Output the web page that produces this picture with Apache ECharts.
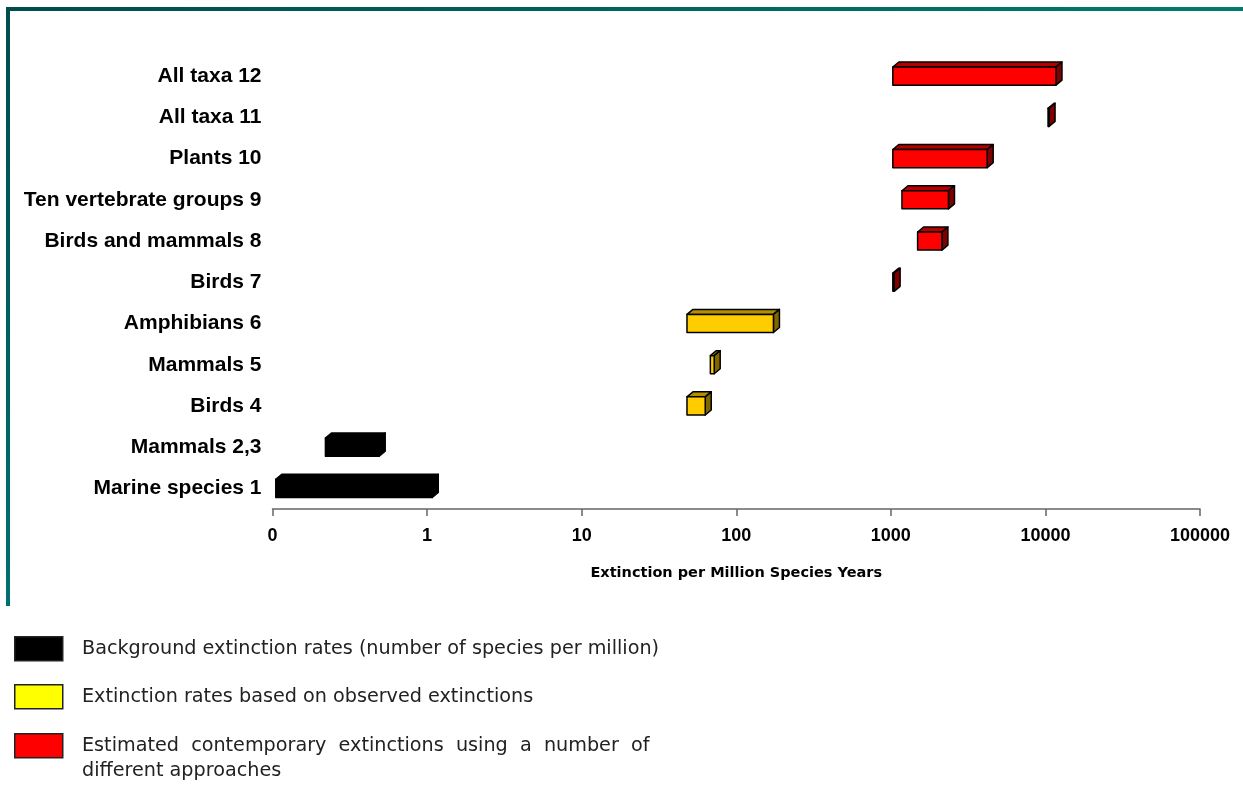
<!DOCTYPE html>
<html>
<head>
<meta charset="utf-8">
<script src="https://cdn.jsdelivr.net/npm/echarts@6/dist/echarts.min.js"></script>
<style>
html,body{margin:0;padding:0;background:#fff;}
#chart{width:1243px;height:785px;}
</style>
</head>
<body>
<div id="chart"></div>
<script>
// ---- data ----
var categories = ['Marine species 1', 'Mammals 2,3', 'Birds 4', 'Mammals 5', 'Amphibians 6', 'Birds 7',
  'Birds and mammals 8', 'Ten vertebrate groups 9', 'Plants 10', 'All taxa 11', 'All taxa 12'];
var lows  = [0.105, 0.22, 48, 68, 48, 1030, 1490, 1180, 1030, 10400, 1030];
var highs = [1.08, 0.49, 63, 72, 174, 1050, 2140, 2360, 4200, 10550, 11700];
var groups = ['background', 'background', 'observed', 'observed', 'observed',
  'estimated', 'estimated', 'estimated', 'estimated', 'estimated', 'estimated'];
var tickValues = [0.1, 1, 10, 100, 1000, 10000, 100000];
var tickLabels = ['0', '1', '10', '100', '1000', '10000', '100000'];
var legendNames = ['Background extinction rates (number of species per million)',
  'Extinction rates based on observed extinctions',
  'Estimated  contemporary  extinctions  using  a  number  of\ndifferent approaches'];
var axisTitle = 'Extinction per Million Species Years';

var palette = {
  background: { front: '#000000', top: '#000000', side: '#000000', swatch: '#000000' },
  observed:   { front: '#FFCC00', top: '#B38F00', side: '#806600', swatch: '#FFFF00' },
  estimated:  { front: '#FF0000', top: '#B30000', side: '#800000', swatch: '#FF0000' }
};
var groupOrder = ['background', 'observed', 'estimated'];

var seriesData = categories.map(function (c, i) { return [i, lows[i], highs[i]]; });

function renderBar(params, api) {
  var idx = api.value(0);
  var p0 = api.coord([api.value(1), idx]);
  var p1 = api.coord([api.value(2), idx]);
  var band = api.size([0, 1])[1];
  var h = band * 0.44;
  var dx = 6, dy = 5;
  var x0 = p0[0], x1 = Math.max(p1[0], p0[0] + 1);
  var yt = p0[1] - h / 2, yb = p0[1] + h / 2;
  var col = palette[groups[params.dataIndex]];
  var st = { stroke: '#000', lineWidth: 1.5, lineJoin: 'round' };
  return {
    type: 'group',
    children: [
      { type: 'polygon', shape: { points: [[x0, yt], [x0 + dx, yt - dy], [x1 + dx, yt - dy], [x1, yt]] },
        style: Object.assign({ fill: col.top }, st) },
      { type: 'polygon', shape: { points: [[x1, yt], [x1 + dx, yt - dy], [x1 + dx, yb - dy], [x1, yb]] },
        style: Object.assign({ fill: col.side }, st) },
      { type: 'rect', shape: { x: x0, y: yt, width: x1 - x0, height: yb - yt },
        style: Object.assign({ fill: col.front }, st) }
    ]
  };
}

// legend drawn as graphic elements
var legendGraphics = [];
var legendY = [636, 684, 733];
groupOrder.forEach(function (g, i) {
  legendGraphics.push({
    type: 'rect', left: 14, top: legendY[i],
    shape: { width: 48, height: 24 },
    style: { fill: palette[g].swatch, stroke: '#222', lineWidth: 1.5 }
  });
  legendGraphics.push({
    type: 'text', left: 82, top: legendY[i] + 1,
    style: { text: legendNames[i], font: '19.2px "DejaVu Sans", sans-serif', fill: '#222', lineHeight: 25 }
  });
});
// frame lines
legendGraphics.push({
  type: 'rect', left: 6, top: 7, shape: { width: 1237, height: 4 },
  style: { fill: new echarts.graphic.LinearGradient(0, 0, 1, 0, [{ offset: 0, color: '#004d4d' }, { offset: 1, color: '#007b70' }]) }
});
legendGraphics.push({
  type: 'rect', left: 6, top: 7, shape: { width: 4, height: 599 },
  style: { fill: new echarts.graphic.LinearGradient(0, 0, 0, 1, [{ offset: 0, color: '#004d4d' }, { offset: 1, color: '#007070' }]) }
});

var chart = echarts.init(document.getElementById('chart'), null, { renderer: 'canvas' });
chart.setOption({
  animation: false,
  backgroundColor: '#fff',
  grid: { left: 272.5, right: 43, top: 55.5, bottom: 276, containLabel: false },
  xAxis: {
    type: 'log', logBase: 10, min: 0.1, max: 100000,
    axisLine: { show: true, lineStyle: { color: '#666', width: 1.5 } },
    axisTick: { show: true, length: 7, lineStyle: { color: '#666', width: 1.5 } },
    splitLine: { show: false },
    minorTick: { show: false },
    axisLabel: {
      margin: 18, color: '#000', fontWeight: 'bold', fontSize: 18,
      fontFamily: '"Liberation Sans", Arial, sans-serif',
      showMinLabel: true, showMaxLabel: true,
      formatter: function (v) {
        for (var i = 0; i < tickValues.length; i++) {
          if (Math.abs(Math.log10(v) - Math.log10(tickValues[i])) < 1e-6) return tickLabels[i];
        }
        return '';
      }
    },
    name: axisTitle, nameLocation: 'middle', nameGap: 57,
    nameTextStyle: { color: '#000', fontWeight: 'bold', fontSize: 14.5, fontFamily: '"DejaVu Sans", sans-serif' }
  },
  yAxis: {
    type: 'category', data: categories,
    axisLine: { show: false }, axisTick: { show: false }, splitLine: { show: false },
    axisLabel: { margin: 11, color: '#000', fontWeight: 'bold', fontSize: 21,
      fontFamily: '"Liberation Sans", Arial, sans-serif' }
  },
  graphic: legendGraphics,
  series: [{
    type: 'custom',
    renderItem: renderBar,
    encode: { x: [1, 2], y: 0 },
    data: seriesData
  }]
});
</script>
</body>
</html>
